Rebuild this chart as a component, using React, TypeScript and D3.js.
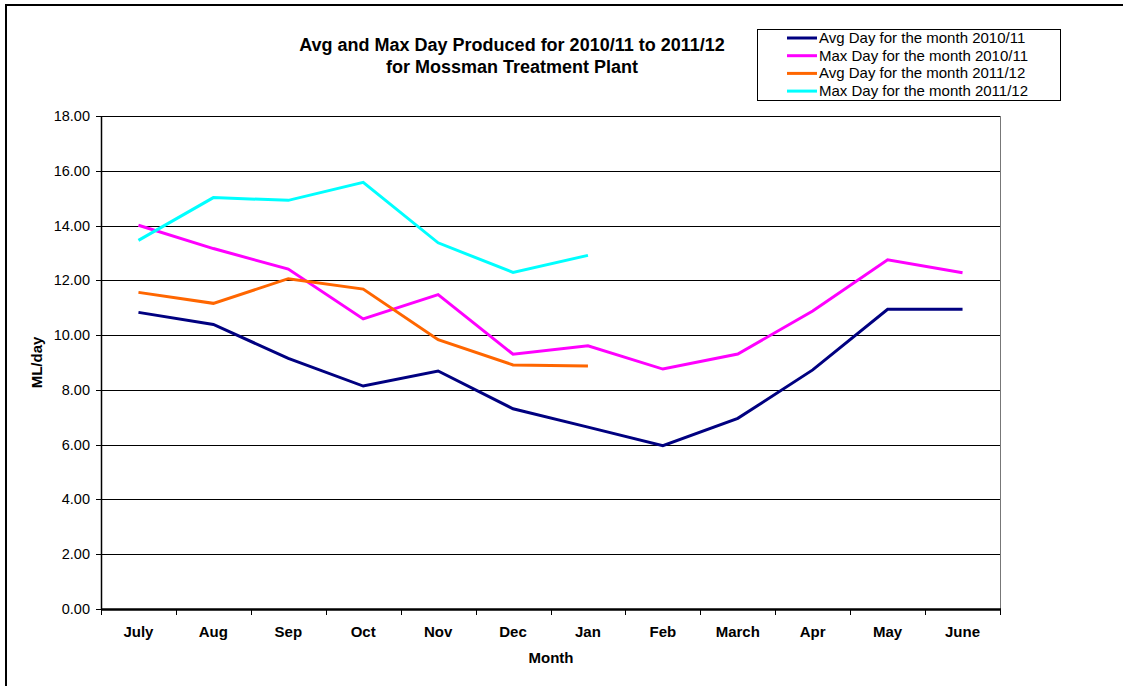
import React from "react";
import * as d3 from "d3";

const months = ["July", "Aug", "Sep", "Oct", "Nov", "Dec", "Jan", "Feb", "March", "Apr", "May", "June"];
const avg1011 = [10.83, 10.39, 9.15, 8.14, 8.69, 7.31, 6.64, 5.96, 6.96, 8.73, 10.94, 10.94];
const max1011 = [14.01, 13.16, 12.41, 10.59, 11.48, 9.3, 9.61, 8.76, 9.31, 10.88, 12.75, 12.28];
const avg1112 = [11.56, 11.16, 12.06, 11.68, 9.83, 8.91, 8.87];
const max1112 = [13.46, 15.02, 14.92, 15.58, 13.37, 12.29, 12.91];
const yTicks = [0, 2, 4, 6, 8, 10, 12, 14, 16, 18];

const seriesNames = [
  "Avg Day for the month 2010/11",
  "Max Day for the month 2010/11",
  "Avg Day for the month 2011/12",
  "Max Day for the month 2011/12",
];
const seriesColors = ["#000080", "#FF00FF", "#FF6600", "#00FFFF"];
const seriesValues = [avg1011, max1011, avg1112, max1112];

const FONT = "'Liberation Sans', Arial, Helvetica, sans-serif";

export default function App() {
  const W = 1123, H = 686;
  const left = 101, right = 1000, top = 116, bottom = 609;
  const x = d3.scaleBand<string>().domain(months).range([left, right]);
  const y = d3.scaleLinear().domain([0, 18]).range([bottom, top]);
  const cx = (m: string) => (x(m) as number) + x.bandwidth() / 2;
  const line = d3
    .line<number>()
    .x((_, i) => cx(months[i]))
    .y((d) => y(d));

  return (
    <svg
      width={W}
      height={H}
      style={{ position: "absolute", left: 0, top: 0, fontFamily: FONT }}
    >
      <rect x={0} y={0} width={W} height={H} fill="#fff" />
      <rect x={6} y={5} width={W + 20} height={H + 20} fill="none" stroke="#000" strokeWidth={2} />

      {/* title */}
      <text x={512} y={51} textAnchor="middle" fontWeight="bold" fontSize={18}>
        Avg and Max Day Produced for 2010/11 to 2011/12
      </text>
      <text x={512} y={73} textAnchor="middle" fontWeight="bold" fontSize={18}>
        for Mossman Treatment Plant
      </text>

      {/* gridlines */}
      {yTicks.map((t) => (
        <g key={t}>
          <line
            x1={left}
            x2={right}
            y1={Math.round(y(t)) + 0.5}
            y2={Math.round(y(t)) + 0.5}
            stroke="#000"
            strokeWidth={1}
          />
          <line
            x1={left - 5}
            x2={left}
            y1={Math.round(y(t)) + 0.5}
            y2={Math.round(y(t)) + 0.5}
            stroke="#000"
            strokeWidth={1}
          />
          <text x={90} y={y(t) + 5} textAnchor="end" fontSize={14.5}>
            {t.toFixed(2)}
          </text>
        </g>
      ))}

      {/* plot frame */}
      <line x1={left + 0.5} x2={left + 0.5} y1={top} y2={bottom} stroke="#000" strokeWidth={1.5} />
      <line x1={right + 0.5} x2={right + 0.5} y1={top} y2={bottom} stroke="#777" strokeWidth={1} />
      <line x1={left} x2={right + 1} y1={bottom + 0.5} y2={bottom + 0.5} stroke="#000" strokeWidth={2.5} />

      {/* x ticks & labels */}
      {months.map((m, i) => (
        <line
          key={"t" + i}
          x1={Math.round(x(m) as number) + 0.5}
          x2={Math.round(x(m) as number) + 0.5}
          y1={bottom}
          y2={bottom + 6}
          stroke="#000"
        />
      ))}
      <line x1={right + 0.5} x2={right + 0.5} y1={bottom} y2={bottom + 6} stroke="#000" />
      {months.map((m) => (
        <text key={m} x={cx(m)} y={637} textAnchor="middle" fontWeight="bold" fontSize={15}>
          {m}
        </text>
      ))}
      <text x={551} y={663} textAnchor="middle" fontWeight="bold" fontSize={15}>
        Month
      </text>
      <text
        transform={`translate(42, ${(top + bottom) / 2}) rotate(-90)`}
        textAnchor="middle"
        fontWeight="bold"
        fontSize={15}
      >
        ML/day
      </text>

      {/* series */}
      {seriesValues.map((vals, i) => (
        <path
          key={i}
          d={line(vals) || ""}
          fill="none"
          stroke={seriesColors[i]}
          strokeWidth={3}
          strokeLinejoin="miter"
        />
      ))}

      {/* legend */}
      <rect x={757.5} y={29.5} width={303} height={71} fill="#fff" stroke="#000" strokeWidth={1} />
      {seriesNames.map((n, i) => (
        <g key={n}>
          <line
            x1={787}
            x2={817}
            y1={38 + i * 17.7}
            y2={38 + i * 17.7}
            stroke={seriesColors[i]}
            strokeWidth={3}
          />
          <text x={819} y={38 + i * 17.7 + 5} fontSize={15}>
            {n}
          </text>
        </g>
      ))}
    </svg>
  );
}
